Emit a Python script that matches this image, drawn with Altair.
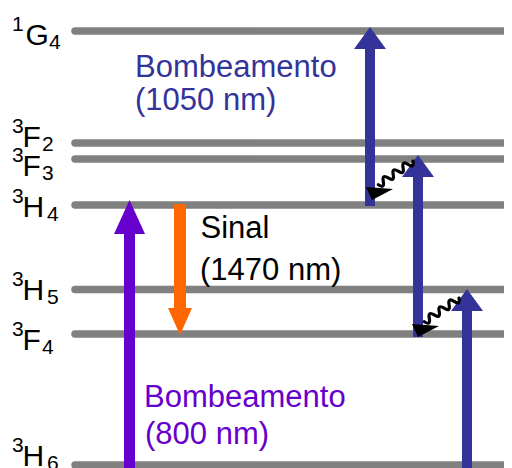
import altair as alt
import pandas as pd

# ---------------- data ----------------
# diagram units: height above the bottom edge of the figure
level_names = ["1G4", "3F2", "3F3", "3H4", "3H5", "3F4", "3H6"]
level_sup = ["1", "3", "3", "3", "3", "3", "3"]
level_letter = ["G", "F", "F", "H", "H", "F", "H"]
level_sub = ["4", "2", "3", "4", "5", "4", "6"]
level_pos = [437, 325, 309, 263, 178.5, 134, 3]
label_pos = [423, 321, 292, 251, 168, 118, 2.5]

arrow_names = ["pump800", "signal1470", "pump1050a", "pump1050b", "pump1050c"]
arrow_x = [129.5, 180, 370, 418, 467]
arrow_from = [-8, 264, 262, 131, -8]
arrow_to = [268, 133, 441, 313, 179]
arrow_color = ["#6600CC", "#FF6600", "#333399", "#333399", "#333399"]

relax_x = [413, 459]
relax_y = [307, 170]

text_lines = ["Bombeamento", "(1050 nm)", "Sinal", "(1470 nm)", "Bombeamento", "(800 nm)"]
text_x = [135, 135, 200.5, 200, 144, 145]
text_y = [391, 358, 230, 188, 61, 24]
text_color = ["#333399", "#333399", "#000000", "#000000", "#6600CC", "#6600CC"]

# ---------------- styles ----------------
shaft_w = [11, 12, 10, 10, 10]
head_half = [15.5, 12, 16, 16, 16]
head_len = [34, 27, 22, 22, 22]
FONT = "Liberation Sans"

xs = alt.Scale(domain=[0, 512], nice=False, zero=False)
ys = alt.Scale(domain=[0, 468], nice=False, zero=False)

layers = []

# energy levels
lev = pd.DataFrame({"name": level_names, "y": level_pos,
                    "x0": [75] * len(level_names), "x1": [530] * len(level_names)})
layers.append(
    alt.Chart(lev).mark_rule(color="#808080", strokeWidth=7.5, strokeCap="round").encode(
        x=alt.X("x0:Q", scale=xs, axis=None),
        x2="x1:Q",
        y=alt.Y("y:Q", scale=ys, axis=None),
    )
)

# level labels
lab = pd.DataFrame({"sup": level_sup, "letter": level_letter, "sub": level_sub, "yb": label_pos})
sub_x = {"G": 49, "F": 42, "H": 47}
main_x = {"G": 25.5, "F": 22.5, "H": 22.5}
lab["xs"] = 12
lab["xm"] = [main_x[l] for l in level_letter]
lab["xb"] = [sub_x[l] for l in level_letter]
lab["ysup"] = lab["yb"] + 14
lab["ysub"] = lab["yb"] - 4
for field, xf, yf, size in [("sup", "xs", "ysup", 21), ("letter", "xm", "yb", 30), ("sub", "xb", "ysub", 21)]:
    layers.append(
        alt.Chart(lab).mark_text(align="left", baseline="alphabetic", font=FONT,
                                 fontSize=size, color="black").encode(
            x=alt.X(f"{xf}:Q", scale=xs, axis=None),
            y=alt.Y(f"{yf}:Q", scale=ys, axis=None),
            text=f"{field}:N",
        )
    )

# straight arrows
for i, name in enumerate(arrow_names):
    d = pd.DataFrame({"x": [arrow_x[i]], "y0": [arrow_from[i]], "y1": [arrow_to[i]]})
    up = arrow_to[i] > arrow_from[i]
    hl = head_len[i]
    hh = head_half[i]
    off = hl * 0.6 if up else -hl * 0.6
    layers.append(
        alt.Chart(d).mark_rule(color=arrow_color[i], strokeWidth=shaft_w[i], strokeCap="butt",
                               y2Offset=off).encode(
            x=alt.X("x:Q", scale=xs, axis=None),
            y=alt.Y("y0:Q", scale=ys, axis=None),
            y2="y1:Q",
        )
    )
    s = hl if up else -hl
    path = f"M0,0L{hh},{s}L{-hh},{s}Z"
    layers.append(
        alt.Chart(d).mark_point(shape=path, size=4, filled=True, color=arrow_color[i],
                                opacity=1, strokeWidth=0).encode(
            x=alt.X("x:Q", scale=xs, axis=None),
            y=alt.Y("y1:Q", scale=ys, axis=None),
        )
    )

# non-radiative relaxations (wavy arrows)
rel = pd.DataFrame({"x": relax_x, "y": relax_y})
wave = "M0,0q3,-7 6,0t6,0t6,0t6,0t6,0t6,0t6,0"
layers.append(
    alt.Chart(rel).mark_point(shape=wave, size=4, filled=False, stroke="black", strokeWidth=3.2,
                              angle=145.6, opacity=1, strokeCap="round").encode(
        x=alt.X("x:Q", scale=xs, axis=None),
        y=alt.Y("y:Q", scale=ys, axis=None),
    )
)
layers.append(
    alt.Chart(rel).mark_point(shape="M-47,26L-20,28L-41,39Z", size=4, filled=True, color="black",
                              opacity=1, strokeWidth=0).encode(
        x=alt.X("x:Q", scale=xs, axis=None),
        y=alt.Y("y:Q", scale=ys, axis=None),
    )
)

# annotations
txt = pd.DataFrame({"t": text_lines, "x": text_x, "y": text_y, "c": text_color})
layers.append(
    alt.Chart(txt).mark_text(align="left", baseline="alphabetic", font=FONT, fontSize=31).encode(
        x=alt.X("x:Q", scale=xs, axis=None),
        y=alt.Y("y:Q", scale=ys, axis=None),
        text="t:N",
        color=alt.Color("c:N", scale=None),
    )
)

chart = alt.layer(*layers).properties(
    width=512, height=468, autosize="none",
    padding={"left": -8, "top": -8, "right": -8, "bottom": 0},
).configure_view(stroke=None)

chart.save("out.html", embed_options={"renderer": "svg", "actions": False})
